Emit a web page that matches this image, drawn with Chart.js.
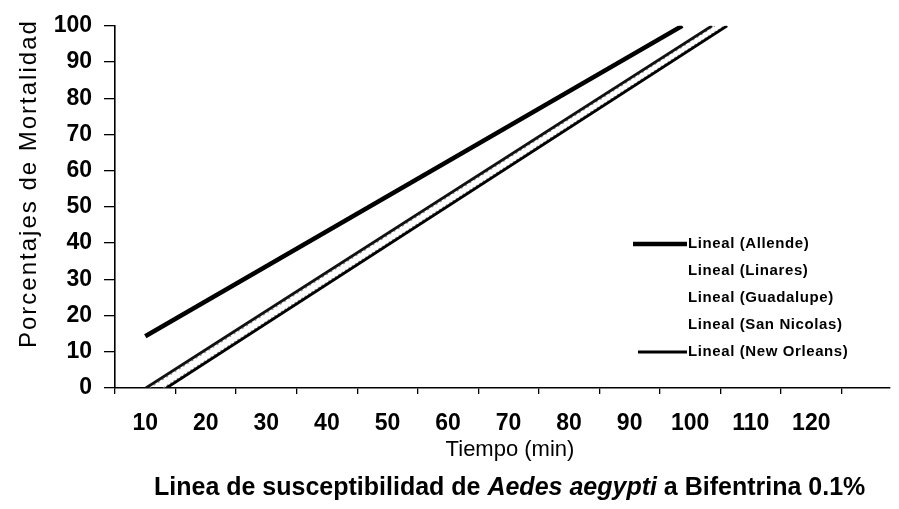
<!DOCTYPE html>
<html><head><meta charset="utf-8">
<script src="https://cdn.jsdelivr.net/npm/chart.js@4.4.0/dist/chart.umd.min.js"></script>
<style>html,body{margin:0;padding:0;background:#fff;overflow:hidden}#wrap{width:899px;height:509px;position:relative}</style>
</head><body><div id="wrap"><canvas id="c" width="899" height="509"></canvas></div>
<script>
// ---- data ----
const seriesNames = ['Lineal (Allende)', 'Lineal (Linares)', 'Lineal (Guadalupe)', 'Lineal (San Nicolas)', 'Lineal (New Orleans)'];
const allendeTime = [10, 98.7];
const allendeMort = [14.3, 100];
const linaresTime = [10.1, 103.6];
const linaresMort = [0, 100];
const guadalupeTime = [10.7, 104.1];
const guadalupeMort = [0, 100];
const sanNicolasTime = [13.0, 105.7];
const sanNicolasMort = [0, 100];
const newOrleansTime = [13.5, 106.1];
const newOrleansMort = [0, 100];
const xLabelValues = [10, 20, 30, 40, 50, 60, 70, 80, 90, 100, 110, 120];
const xEdgeValues = [5, 15, 25, 35, 45, 55, 65, 75, 85, 95, 105, 115, 125];
const yTickValues = [0, 10, 20, 30, 40, 50, 60, 70, 80, 90, 100];
const xTitle = 'Tiempo (min)';
const yTitle = 'Porcentajes de Mortalidad';
const captionParts = [['Linea de susceptibilidad de ', false], ['Aedes aegypti', true], [' a Bifentrina 0.1%', false]];

const FONT = "'Liberation Sans', Arial, sans-serif";
const pts = (t, m) => t.map((v, i) => ({x: v, y: m[i]}));

const datasets = [
  {label: seriesNames[0], data: pts(allendeTime, allendeMort), borderColor: '#000', borderWidth: 4.5, showSample: true, order: 0},
  {label: seriesNames[1], data: pts(linaresTime, linaresMort), borderColor: '#111', borderWidth: 2.8, showSample: false, order: 2},
  {label: seriesNames[2], data: pts(guadalupeTime, guadalupeMort), borderColor: 'rgba(120,120,120,0.8)', borderWidth: 1.2, borderDash: [2, 3], showSample: false, order: 3},
  {label: seriesNames[3], data: pts(sanNicolasTime, sanNicolasMort), borderColor: 'rgba(120,120,120,0.8)', borderWidth: 1.5, borderDash: [2, 2], showSample: false, order: 4},
  {label: seriesNames[4], data: pts(newOrleansTime, newOrleansMort), borderColor: '#000', borderWidth: 2.8, showSample: true, order: 1}
].map(d => Object.assign({type: 'line', pointRadius: 0, tension: 0, fill: false, xAxisID: 'x', yAxisID: 'y'}, d));

const textPlugin = {
  id: 'textPlugin',
  afterDraw(chart) {
    const ctx = chart.ctx;
    ctx.save();
    ctx.fillStyle = '#000';
    // y title
    ctx.save();
    ctx.font = '24px ' + FONT;
    ctx.letterSpacing = '2px';
    ctx.translate(36, 348);
    ctx.rotate(-Math.PI / 2);
    ctx.textAlign = 'left';
    ctx.textBaseline = 'alphabetic';
    ctx.fillText(yTitle, 0, 0);
    ctx.restore();
    // x title
    ctx.save();
    ctx.font = '22px ' + FONT;
    ctx.textAlign = 'center';
    ctx.textBaseline = 'alphabetic';
    ctx.fillText(xTitle, 510, 456);
    ctx.restore();
    // caption
    ctx.save();
    ctx.textBaseline = 'alphabetic';
    ctx.textAlign = 'left';
    let x = 154;
    captionParts.forEach(([txt, it]) => {
      ctx.font = (it ? 'italic ' : '') + 'bold 25px ' + FONT;
      ctx.fillText(txt, x, 495);
      x += ctx.measureText(txt).width;
    });
    ctx.restore();
    // legend
    ctx.save();
    ctx.font = 'bold 15px ' + FONT;
    ctx.letterSpacing = '0.6px';
    ctx.textBaseline = 'middle';
    ctx.textAlign = 'left';
    chart.data.datasets.forEach((ds, i) => {
      const y = 244 + i * 27;
      if (ds.showSample) {
        ctx.strokeStyle = ds.borderColor;
        ctx.lineWidth = ds.borderWidth;
        ctx.beginPath();
        ctx.moveTo(i === 0 ? 633 : 638, y);
        ctx.lineTo(687, y);
        ctx.stroke();
      }
      ctx.fillText(ds.label, 688, y);
    });
    ctx.restore();
    ctx.restore();
  }
};

new Chart(document.getElementById('c'), {
  data: {datasets},
  options: {
    responsive: false,
    animation: false,
    devicePixelRatio: 1,
    layout: {padding: {left: 0, right: 9, top: 25, bottom: 48}},
    plugins: {legend: {display: false}, tooltip: {enabled: false}, title: {display: false}},
    scales: {
      x: {
        type: 'linear', position: 'bottom', weight: 0, min: 5, max: 133,
        afterBuildTicks: s => { s.ticks = xEdgeValues.map(v => ({value: v})); },
        afterFit: s => { s.height = 8; },
        ticks: {display: false},
        grid: {display: true, drawOnChartArea: false, drawTicks: true, tickLength: 6, color: '#000', lineWidth: 1.3},
        border: {display: true, color: '#000', width: 1.6}
      },
      x2: {
        type: 'linear', position: 'bottom', weight: 1, min: 5, max: 133,
        afterBuildTicks: s => { s.ticks = xLabelValues.map(v => ({value: v})); },
        afterFit: s => { s.height = 65; },
        ticks: {color: '#000', font: {family: FONT, size: 23, weight: 'bold'}, padding: 14, maxRotation: 0, autoSkip: false, callback: v => String(v)},
        grid: {display: false, drawTicks: false},
        border: {display: false},
        title: {display: false}
      },
      y: {
        type: 'linear', position: 'left', min: 0, max: 100,
        afterBuildTicks: s => { s.ticks = yTickValues.map(v => ({value: v})); },
        afterFit: s => { s.width = 115; },
        ticks: {color: '#000', font: {family: FONT, size: 23, weight: 'bold'}, padding: 12},
        grid: {display: true, drawOnChartArea: false, drawTicks: true, tickLength: 11, color: '#000', lineWidth: 1.3},
        border: {display: true, color: '#000', width: 1.6}
      }
    }
  },
  plugins: [textPlugin]
});
</script>
</body></html>
